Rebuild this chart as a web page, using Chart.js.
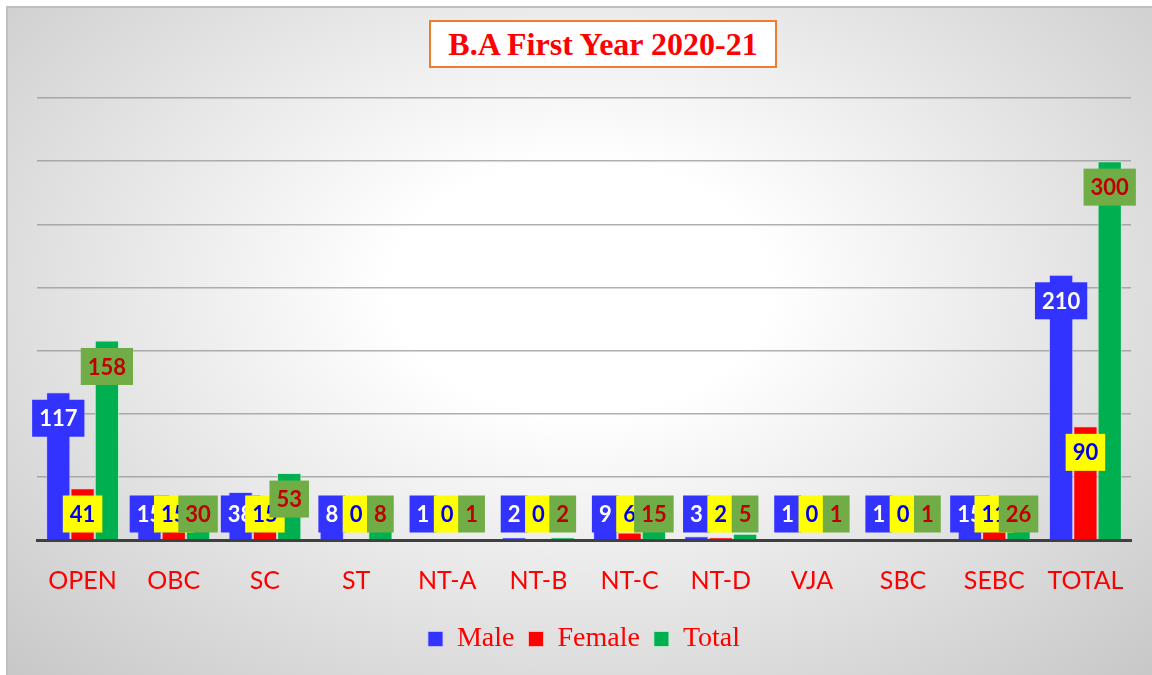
<!DOCTYPE html>
<html>
<head>
<meta charset="utf-8">
<script src="https://cdn.jsdelivr.net/npm/chart.js@4.4.0/dist/chart.umd.min.js"></script>
<style>
  body { margin: 0; background: #fff; }
  #wrap {
    position: absolute; left: 6px; top: 6px; width: 1144px; height: 667px;
    border: 2px solid #c0c0c0; border-right: none; border-bottom: none;
    background: radial-gradient(ellipse 75% 85% at 50% 42%, #ffffff 22%, #c4c4c4 100%);
  }
  #chartBox { position: absolute; left: 0; top: 0; width: 1152px; height: 675px; }
  #title {
    position: absolute; left: 429px; top: 20px; width: 344px; height: 44px;
    border: 2px solid #ED7D31; background: #fff;
    font: bold 32px "Liberation Serif", serif; color: #FF0000;
    text-align: center; line-height: 44px;
  }
</style>
</head>
<body>
<div id="wrap"></div>
<div id="chartBox"><canvas id="chart" width="1152" height="675"></canvas></div>
<div id="title">B.A First Year 2020-21</div>
<script>
const categories = ['OPEN', 'OBC', 'SC', 'ST', 'NT-A', 'NT-B', 'NT-C', 'NT-D', 'VJA', 'SBC', 'SEBC', 'TOTAL'];
const male   = [117, 15, 38, 8, 1, 2, 9, 3, 1, 1, 15, 210];
const female = [41, 15, 15, 0, 0, 0, 6, 2, 0, 0, 11, 90];
const total  = [158, 30, 53, 8, 1, 2, 15, 5, 1, 1, 26, 300];

const labelBg = ['#3333FF', '#FFFF00', '#70AD47'];
const labelFg = ['#FFFFFF', '#0000EE', '#C00000'];

// boxed value labels, drawn near the top of each bar
const boxLabels = {
  id: 'boxLabels',
  afterDatasetsDraw(chart) {
    const ctx = chart.ctx;
    const base = chart.scales.y.getPixelForValue(0);
    ctx.save();
    ctx.font = 'bold 22px Lato';
    ctx.textAlign = 'center';
    ctx.textBaseline = 'middle';
    chart.data.datasets.forEach((ds, i) => {
      const meta = chart.getDatasetMeta(i);
      meta.data.forEach((bar, j) => {
        const txt = String(ds.data[j]);
        const w = ctx.measureText(txt).width + 14;
        const h = 37;
        const cy = Math.min(bar.y + 26, base - 26);
        ctx.fillStyle = labelBg[i];
        ctx.fillRect(bar.x - w / 2, cy - h / 2, w, h);
        ctx.fillStyle = labelFg[i];
        ctx.fillText(txt, bar.x, cy + 1);
      });
    });
    ctx.restore();
  }
};

new Chart(document.getElementById('chart'), {
  type: 'bar',
  data: {
    labels: categories,
    datasets: [
      { label: 'Male', data: male, backgroundColor: '#3333FF', borderColor: 'rgba(200,200,255,0.8)', borderWidth: 1 },
      { label: 'Female', data: female, backgroundColor: '#FF0000', borderColor: 'rgba(255,200,200,0.8)', borderWidth: 1 },
      { label: 'Total', data: total, backgroundColor: '#00B050', borderColor: 'rgba(190,240,210,0.8)', borderWidth: 1 }
    ]
  },
  options: {
    responsive: false,
    animation: false,
    categoryPercentage: 0.8,
    barPercentage: 1.0,
    layout: { padding: { top: 98, left: 37, right: 21, bottom: 12 } },
    plugins: {
      tooltip: { enabled: false },
      legend: {
        position: 'bottom',
        labels: {
          color: '#FF0000',
          font: { family: 'Liberation Serif', size: 28 },
          boxWidth: 15,
          boxHeight: 15,
          padding: 14
        }
      }
    },
    scales: {
      x: {
        grid: { display: false, drawTicks: false },
        border: { color: '#404040', width: 3 },
        ticks: { color: '#FF0000', font: { family: 'Lato', size: 25 }, padding: 26 },
        afterFit(scale) { scale.height = 71; }
      },
      y: {
        min: 0,
        max: 350,
        ticks: { stepSize: 50, display: false },
        grid: { color: 'rgba(150,150,150,0.75)', lineWidth: 1.5, drawTicks: false },
        border: { display: false }
      }
    }
  },
  plugins: [boxLabels]
});
</script>
</body>
</html>
